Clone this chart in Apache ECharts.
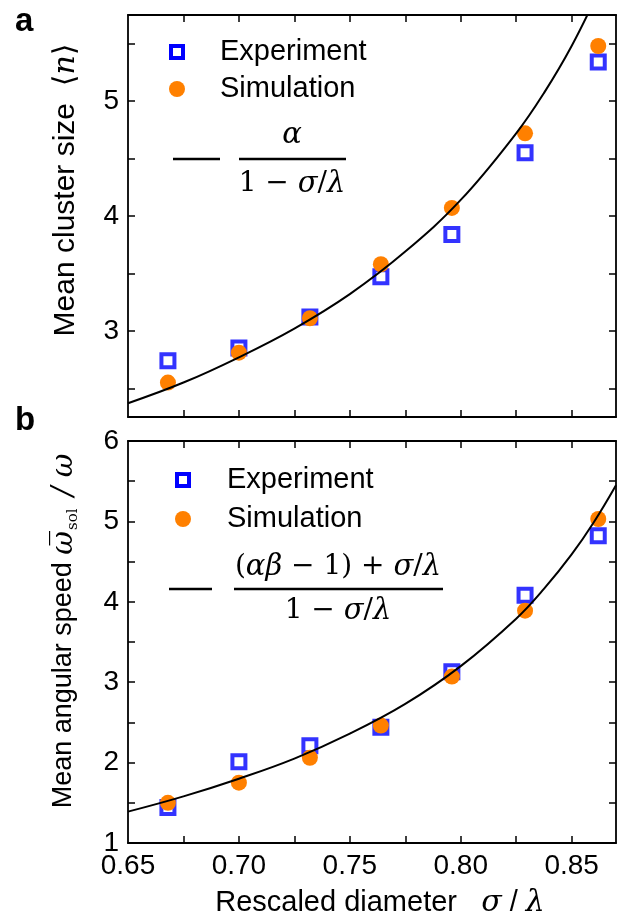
<!DOCTYPE html>
<html>
<head>
<meta charset="utf-8">
<script src="https://cdn.jsdelivr.net/npm/echarts@6/dist/echarts.min.js"></script>
<style>
  html, body { margin: 0; padding: 0; background: #fff; }
  #chart { width: 629px; height: 921px; }
</style>
</head>
<body>
<div id="chart"></div>
<script>
// rescaled diameter of each measured point
const sigma = [0.668, 0.700, 0.732, 0.764, 0.796, 0.829, 0.862];

// panel a: mean cluster size
const clusterExp = [2.74, 2.85, 3.12, 3.47, 3.84, 4.55, 5.34];
const clusterSim = [2.55, 2.81, 3.11, 3.58, 4.07, 4.72, 5.48];
const clusterFitX = [0.65, 0.675, 0.70, 0.725, 0.75, 0.775, 0.80, 0.825, 0.8375, 0.85, 0.8625];
const clusterFitY = [2.37, 2.55, 2.77, 3.02, 3.32, 3.69, 4.14, 4.72, 5.07, 5.48, 5.97];

// panel b: mean angular speed
const speedExp = [1.44, 2.01, 2.21, 2.44, 3.13, 4.08, 4.82];
const speedSim = [1.50, 1.75, 2.06, 2.46, 3.07, 3.89, 5.03];
const speedFitX = [0.65, 0.675, 0.70, 0.725, 0.75, 0.775, 0.80, 0.825, 0.8375, 0.85, 0.86, 0.87];
const speedFitY = [1.39, 1.58, 1.80, 2.05, 2.36, 2.73, 3.20, 3.79, 4.16, 4.59, 4.99, 5.45];

// ticks and labels
const xTicks = [0.675, 0.70, 0.725, 0.75, 0.775, 0.80, 0.825, 0.85];
const xLabels = [0.65, 0.70, 0.75, 0.80, 0.85];
const clusterTicks = [2.5, 3, 3.5, 4, 4.5, 5, 5.5];
const clusterLabels = [3, 4, 5];
const speedTicks = [1.5, 2, 2.5, 3, 3.5, 4, 4.5, 5, 5.5];
const speedLabels = [1, 2, 3, 4, 5, 6];

const zip = (xs, ys) => xs.map((x, i) => [x, ys[i]]);

const SANS = '"Liberation Sans", Arial, Helvetica, sans-serif';
const SERIF = '"DejaVu Serif", "Liberation Serif", serif';
const BLUE = '#0000ff';
const ORANGE = '#ff8000';

const axisLine = { show: true, lineStyle: { color: '#000', width: 1.8 } };

function xAx(gridIndex, position, ticks, labels) {
  return {
    type: 'value', gridIndex, position, min: 0.65, max: 0.87,
    axisLine,
    axisTick: { show: true, inside: true, length: 7, customValues: ticks,
      lineStyle: { color: '#000', width: 1.5 } },
    axisLabel: labels ? {
      show: true, customValues: labels, margin: 9,
      formatter: (v) => v.toFixed(2),
      color: '#000', fontSize: 28, fontFamily: SANS
    } : { show: false },
    splitLine: { show: false }
  };
}

function yAx(gridIndex, position, min, max, ticks, labels) {
  return {
    type: 'value', gridIndex, position, min, max,
    axisLine,
    axisTick: { show: true, inside: true, length: 7, customValues: ticks,
      lineStyle: { color: '#000', width: 1.5 } },
    axisLabel: labels ? {
      show: true, customValues: labels, margin: 9,
      color: '#000', fontSize: 28, fontFamily: SANS
    } : { show: false },
    splitLine: { show: false }
  };
}

function expSeries(xi, yi, ys) {
  return {
    name: 'Experiment', type: 'scatter', xAxisIndex: xi, yAxisIndex: yi,
    symbol: 'rect', symbolSize: 13, z: 2,
    itemStyle: { color: 'rgba(0,0,0,0)', borderColor: BLUE, borderWidth: 4 },
    data: zip(sigma, ys)
  };
}

function simSeries(xi, yi, ys) {
  return {
    name: 'Simulation', type: 'scatter', xAxisIndex: xi, yAxisIndex: yi,
    symbol: 'circle', symbolSize: 16, z: 3,
    itemStyle: { color: ORANGE, opacity: 1 },
    data: zip(sigma, ys)
  };
}

function fitSeries(xi, yi, xs, ys) {
  return {
    name: 'fit', type: 'line', xAxisIndex: xi, yAxisIndex: yi,
    showSymbol: false, smooth: 0.4, z: 4, clip: true,
    lineStyle: { color: '#000', width: 2 },
    data: zip(xs, ys)
  };
}

// legend block drawn as graphic elements
function legendBlock(cx, y1, y2, tx) {
  return [
    { type: 'rect', shape: { x: cx - 6, y: y1 - 6, width: 12, height: 12 },
      style: { fill: 'none', stroke: BLUE, lineWidth: 4 } },
    { type: 'circle', shape: { cx: cx, cy: y2, r: 8 }, style: { fill: ORANGE } },
    { type: 'text', x: tx, y: y1, style: { text: 'Experiment', font: '29px ' + SANS,
      fill: '#000', verticalAlign: 'middle' } },
    { type: 'text', x: tx, y: y2, style: { text: 'Simulation', font: '29px ' + SANS,
      fill: '#000', verticalAlign: 'middle' } }
  ];
}

const mathRich = {
  i: { fontFamily: SERIF, fontStyle: 'italic', fontSize: 29, fill: '#000' },
  n: { fontFamily: SERIF, fontSize: 28, fill: '#000' }
};

function mathText(x, y, text) {
  return { type: 'text', x, y, style: { text, rich: mathRich, fill: '#000',
    align: 'center', verticalAlign: 'middle' } };
}

function hline(x1, x2, y, w) {
  return { type: 'line', shape: { x1, y1: y, x2, y2: y },
    style: { stroke: '#000', lineWidth: w } };
}

const graphics = [
  { type: 'text', x: 15, y: 22, style: { text: 'a', font: 'bold 33px ' + SANS,
    fill: '#000', verticalAlign: 'middle' } },
  { type: 'text', x: 15, y: 421, style: { text: 'b', font: 'bold 33px ' + SANS,
    fill: '#000', verticalAlign: 'middle' } },

  // axis titles
  { type: 'text', x: 66, y: 190, rotation: Math.PI / 2,
    style: { text: 'Mean cluster size  {m|\u27e8}{i|n}{m|\u27e9}', font: '30px ' + SANS,
      fill: '#000', align: 'center', verticalAlign: 'middle',
      rich: { m: { fontFamily: SERIF, fontSize: 30 },
              i: { fontFamily: SERIF, fontStyle: 'italic', fontSize: 30 } } } },
  { type: 'text', x: 64, y: 631, rotation: Math.PI / 2,
    style: { text: 'Mean angular speed {w|\u03c9\u0305}{s|sol}{w| / }{w|\u03c9}', font: '27px ' + SANS,
      fill: '#000', align: 'center', verticalAlign: 'middle',
      rich: { w: { fontFamily: SERIF, fontStyle: 'italic', fontSize: 29, lineHeight: 34 },
              s: { fontFamily: SERIF, fontSize: 15, lineHeight: 34, verticalAlign: 'bottom',
                   padding: [0, 3, 0, 1] } } } },
  { type: 'text', x: 380, y: 903,
    style: { text: 'Rescaled diameter   {i|\u03c3}{m| / }{i|\u03bb}', font: '29px ' + SANS,
      fill: '#000', align: 'center', verticalAlign: 'middle',
      rich: { i: { fontFamily: SERIF, fontStyle: 'italic', fontSize: 30 } } } },

  ...legendBlock(177, 52, 89, 220),
  hline(173, 220, 159, 2.5),
  hline(239, 346, 159, 2.5),
  mathText(292, 135, '{i|\u03b1}'),
  mathText(292, 184, '{n|1 \u2212 }{i|\u03c3}{n|/}{i|\u03bb}'),

  ...legendBlock(183, 480, 519, 227),
  hline(169, 212, 589, 2.5),
  hline(234, 443, 589, 2.5),
  mathText(338, 567, '{n|(}{i|\u03b1\u03b2}{n| \u2212 1) + }{i|\u03c3}{n|/}{i|\u03bb}'),
  mathText(338, 611, '{n|1 \u2212 }{i|\u03c3}{n|/}{i|\u03bb}')
];

const option = {
  backgroundColor: '#fff',
  animation: false,
  grid: [
    { left: 128, top: 15, width: 488, height: 402 },
    { left: 128, top: 441, width: 488, height: 402 }
  ],
  xAxis: [
    xAx(0, 'bottom', xTicks, null),
    xAx(0, 'top', xTicks, null),
    xAx(1, 'bottom', xTicks, xLabels),
    xAx(1, 'top', xTicks, null)
  ],
  yAxis: [
    yAx(0, 'left', 2.25, 5.75, clusterTicks, clusterLabels),
    yAx(0, 'right', 2.25, 5.75, clusterTicks, null),
    yAx(1, 'left', 1, 6, speedTicks, speedLabels),
    yAx(1, 'right', 1, 6, speedTicks, null)
  ],
  series: [
    expSeries(0, 0, clusterExp),
    simSeries(0, 0, clusterSim),
    fitSeries(0, 0, clusterFitX, clusterFitY),
    expSeries(2, 2, speedExp),
    simSeries(2, 2, speedSim),
    fitSeries(2, 2, speedFitX, speedFitY)
  ],
  graphic: graphics
};

const chart = echarts.init(document.getElementById('chart'), null, { renderer: 'canvas' });
chart.setOption(option);
</script>
</body>
</html>
